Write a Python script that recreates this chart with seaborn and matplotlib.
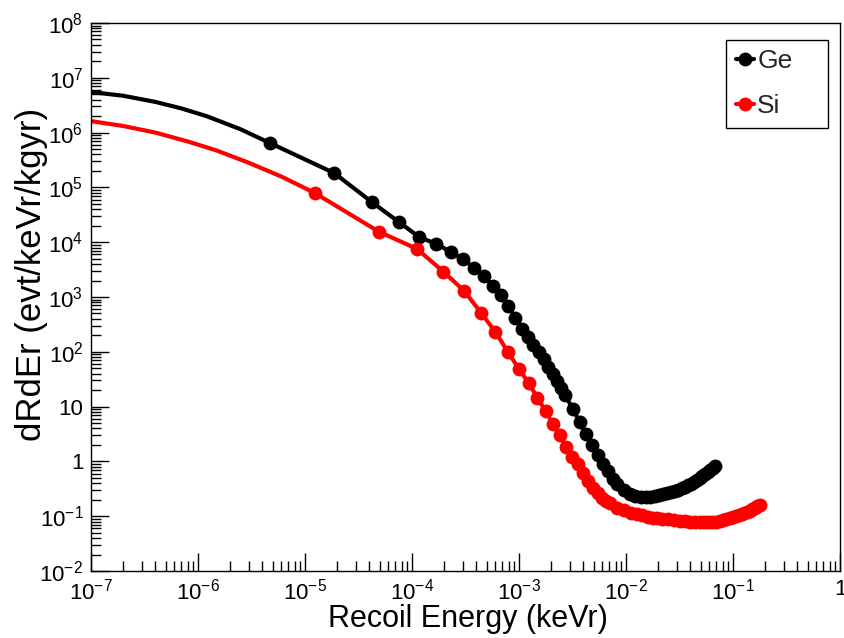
import matplotlib
matplotlib.use("Agg")
import matplotlib.pyplot as plt
from matplotlib.lines import Line2D
from matplotlib.ticker import FixedLocator, FixedFormatter, LogLocator, NullFormatter
import numpy as np
import pandas as pd
import seaborn as sns

# ---------------------------------------------------------------- data
# Low-energy part of each spectrum (drawn as a plain line)
GE_TAIL_E = [1.0e-7, 2.0e-7, 4.0e-7, 7.0e-7, 1.2e-6, 2.5e-6]
GE_TAIL_R = [5.5e6, 4.7e6, 3.63e6, 2.76e6, 2.0e6, 1.15e6]
SI_TAIL_E = [1.0e-7, 2.0e-7, 4.0e-7, 8.0e-7, 1.5e-6, 3.0e-6, 6.0e-6]
SI_TAIL_R = [1.62e6, 1.32e6, 1.0e6, 6.9e5, 4.7e5, 2.8e5, 1.58e5]

# Germanium recoil spectrum (keVr, evt/keVr/kg/yr)
GE_E = [4.70e-6, 1.88e-5, 4.23e-5, 7.52e-5, 1.175e-4, 1.692e-4, 2.303e-4, 3.008e-4,
        3.807e-4, 4.70e-4, 5.687e-4, 6.768e-4, 7.943e-4, 9.212e-4, 1.058e-3, 1.203e-3,
        1.358e-3, 1.523e-3, 1.697e-3, 1.880e-3, 2.073e-3, 2.275e-3, 2.486e-3, 2.707e-3,
        3.177e-3, 3.685e-3, 4.230e-3, 4.813e-3, 5.433e-3, 6.091e-3, 6.787e-3, 7.520e-3,
        8.291e-3, 9.518e-3, 1.083e-2, 1.222e-2, 1.371e-2, 1.527e-2, 1.692e-2, 1.865e-2,
        2.047e-2, 2.238e-2, 2.436e-2, 2.644e-2, 2.859e-2, 3.084e-2, 3.316e-2, 3.557e-2,
        3.807e-2, 4.065e-2, 4.332e-2, 4.606e-2, 4.890e-2, 5.182e-2, 5.482e-2, 5.791e-2,
        6.108e-2, 6.434e-2, 6.768e-2]
GE_R = [6.46e5, 1.82e5, 5.37e4, 2.34e4, 1.23e4, 9.33e3, 6.61e3, 4.90e3,
        3.39e3, 2.40e3, 1.58e3, 1.10e3, 692, 417, 263, 186,
        135, 97.7, 72.4, 53.7, 39.8, 29.5, 21.9, 16.2,
        9.12, 5.25, 3.16, 2.00, 1.32, 0.891, 0.661, 0.479,
        0.389, 0.302, 0.257, 0.234, 0.224, 0.224, 0.224, 0.234,
        0.245, 0.257, 0.263, 0.275, 0.288, 0.302, 0.324, 0.339,
        0.372, 0.389, 0.417, 0.457, 0.501, 0.537, 0.589, 0.646,
        0.692, 0.759, 0.832]

# Silicon recoil spectrum (keVr, evt/keVr/kg/yr)
SI_E = [1.230e-5, 4.920e-5, 1.107e-4, 1.968e-4, 3.075e-4, 4.428e-4, 6.027e-4, 7.872e-4,
        9.963e-4, 1.230e-3, 1.488e-3, 1.771e-3, 2.079e-3, 2.411e-3, 2.768e-3, 3.149e-3,
        3.555e-3, 3.985e-3, 4.440e-3, 4.920e-3, 5.424e-3, 5.953e-3, 6.507e-3, 7.085e-3,
        8.315e-3, 9.643e-3, 1.107e-2, 1.260e-2, 1.422e-2, 1.594e-2, 1.776e-2, 1.968e-2,
        2.170e-2, 2.491e-2, 2.834e-2, 3.199e-2, 3.587e-2, 3.996e-2, 4.428e-2, 4.882e-2,
        5.358e-2, 5.856e-2, 6.376e-2, 6.919e-2, 7.483e-2, 8.070e-2, 8.679e-2, 9.310e-2,
        9.963e-2, 1.064e-1, 1.134e-1, 1.206e-1, 1.280e-1, 1.356e-1, 1.435e-1, 1.515e-1,
        1.599e-1, 1.684e-1, 1.771e-1]
SI_R = [7.94e4, 1.55e4, 7.6e3, 2.9e3, 1.29e3, 513, 229, 100,
        49, 27, 14.4, 8.3, 4.8, 3.0, 1.82, 1.20,
        0.89, 0.62, 0.44, 0.33, 0.265, 0.214, 0.19, 0.174,
        0.14, 0.129, 0.115, 0.11, 0.105, 0.097, 0.093, 0.093,
        0.089, 0.089, 0.085, 0.081, 0.081, 0.080, 0.078, 0.078,
        0.078, 0.078, 0.078, 0.080, 0.081, 0.085, 0.089, 0.093,
        0.097, 0.100, 0.105, 0.110, 0.115, 0.120, 0.126, 0.135,
        0.141, 0.151, 0.158]

SERIES_NAMES = ["Ge", "Si"]
SERIES_COLORS = ["#000000", "#ff0000"]

X_TICKS = [1e-7, 1e-6, 1e-5, 1e-4, 1e-3, 1e-2, 1e-1, 1.0]
X_TICK_LABELS = ["$10^{-7}$", "$10^{-6}$", "$10^{-5}$", "$10^{-4}$", "$10^{-3}$",
                 "$10^{-2}$", "$10^{-1}$", "1"]
Y_TICKS = [1e-2, 1e-1, 1.0, 10.0, 1e2, 1e3, 1e4, 1e5, 1e6, 1e7, 1e8]
Y_TICK_LABELS = ["$10^{-2}$", "$10^{-1}$", "1", "10", "$10^{2}$", "$10^{3}$",
                 "$10^{4}$", "$10^{5}$", "$10^{6}$", "$10^{7}$", "$10^{8}$"]

X_LABEL = "Recoil Energy (keVr)"
Y_LABEL = "dRdEr (evt/keVr/kgyr)"

# ---------------------------------------------------------------- style
sns.set_style("white")
plt.rcParams["font.family"] = ["Liberation Sans", "DejaVu Sans"]
plt.rcParams["mathtext.default"] = "regular"

W, H = 844, 638
fig = plt.figure(figsize=(W / 100, H / 100), dpi=100)
fig.patch.set_facecolor("white")
L, R, T, B = 91, 840, 23, 571
ax = fig.add_axes([L / W, 1 - B / H, (R - L) / W, (B - T) / H])
ax.set_facecolor("white")
ax.set_xscale("log")
ax.set_yscale("log")

LW, MS = 3.0, 10.0

# ---------------------------------------------------------------- curves
curves = [
    (GE_TAIL_E, GE_TAIL_R, GE_E, GE_R),
    (SI_TAIL_E, SI_TAIL_R, SI_E, SI_R),
]
for (te, tr, e, r), name, color in zip(curves, SERIES_NAMES, SERIES_COLORS):
    df = pd.DataFrame({"energy": list(te) + list(e), "rate": list(tr) + list(r)})
    sns.lineplot(data=df, x="energy", y="rate", ax=ax, estimator=None, sort=False,
                 color=color, linewidth=LW, marker="o", markersize=MS,
                 markeredgecolor=color, markeredgewidth=0,
                 markevery=list(range(len(te), len(df))), legend=False)

# ---------------------------------------------------------------- axes
ax.set_xlim(1e-7, 1.0)
ax.set_ylim(1e-2, 1e8)
ax.xaxis.set_major_locator(FixedLocator(X_TICKS))
ax.xaxis.set_major_formatter(FixedFormatter(X_TICK_LABELS))
ax.yaxis.set_major_locator(FixedLocator(Y_TICKS))
ax.yaxis.set_major_formatter(FixedFormatter(Y_TICK_LABELS))
ax.xaxis.set_minor_locator(LogLocator(base=10, subs=np.arange(2, 10), numticks=100))
ax.yaxis.set_minor_locator(LogLocator(base=10, subs=np.arange(2, 10), numticks=100))
ax.xaxis.set_minor_formatter(NullFormatter())
ax.yaxis.set_minor_formatter(NullFormatter())

ax.tick_params(which="both", direction="in", top=False, right=False,
               bottom=True, left=True, color="black", width=1.0)
ax.tick_params(which="major", length=13)
ax.tick_params(which="minor", length=7)
ax.tick_params(axis="y", pad=5.5, labelsize=16, labelcolor="black")
ax.tick_params(axis="x", pad=5.5, labelsize=16, labelcolor="black")

for sp in ax.spines.values():
    sp.set_visible(True)
    sp.set_color("black")
    sp.set_linewidth(1.0)

ax.set_xlabel(X_LABEL, fontsize=22, color="black")
ax.xaxis.set_label_coords(0.503, -0.061)
ax.set_ylabel(Y_LABEL, fontsize=25, color="black")
ax.yaxis.set_label_coords(-0.058, 0.542)

handles = [Line2D([], [], color=c, linewidth=LW, marker="o", markersize=MS,
                  markeredgewidth=0) for c in SERIES_COLORS]
leg = ax.legend(handles, SERIES_NAMES, loc="upper left",
                bbox_to_anchor=(0.848, 0.969, 0.136, 0.0), mode="expand",
                frameon=True, fancybox=False, shadow=False, framealpha=1.0,
                edgecolor="black", borderaxespad=0.0, handlelength=0.7,
                handletextpad=0.12, labelspacing=0.78, borderpad=0.36, fontsize=19)
leg.get_frame().set_linewidth(1.0)

fig.savefig("out.png", dpi=100, facecolor="white")
